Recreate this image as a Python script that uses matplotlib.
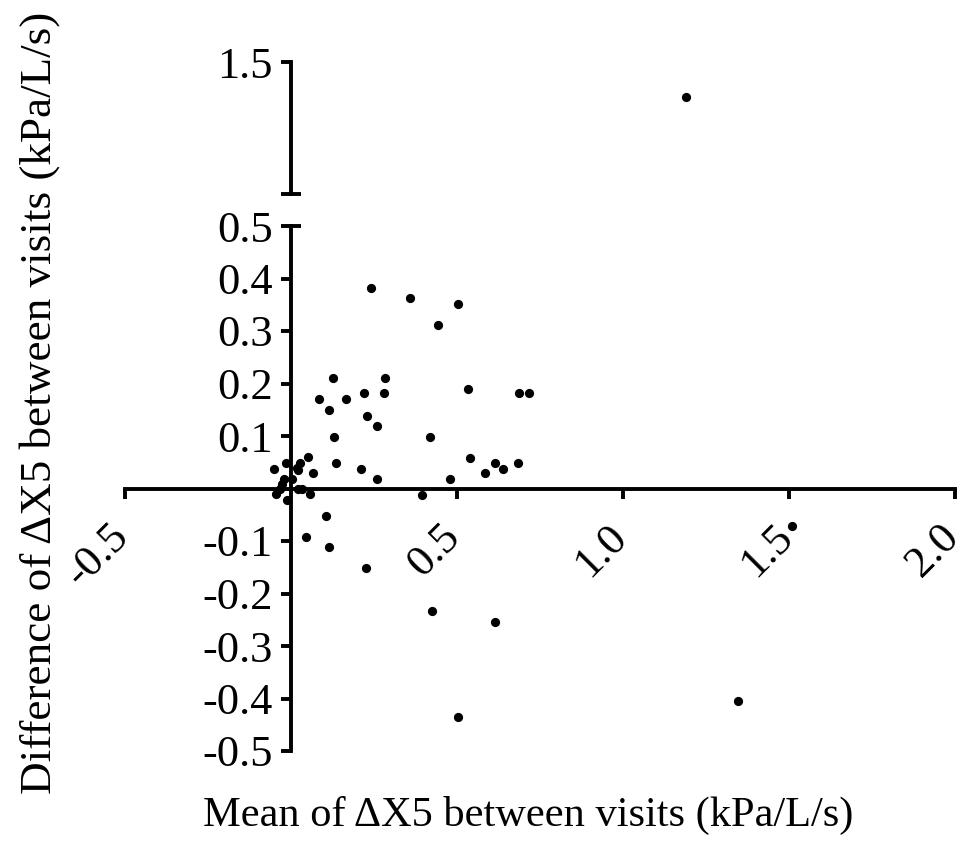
import matplotlib
matplotlib.use("Agg")
import matplotlib.pyplot as plt
import matplotlib.transforms as mtransforms
import numpy as np

plt.rcParams['font.family'] = ['Liberation Serif', 'DejaVu Serif']

# Bland-Altman style data
mean_x = [-0.050, -0.015, 0.027, 0.052, 0.018, 0.022, 0.065, -0.020, 0.002,
          -0.027, -0.033, -0.046, -0.013, 0.022, 0.033, 0.057,
          0.085, 0.126, 0.115, 0.130, 0.135, 0.165, 0.220, 0.240, 0.229,
          0.259, 0.211, 0.259, 0.280, 0.284, 0.358, 0.444, 0.504, 0.419,
          0.395, 0.479, 0.534, 0.538, 0.583, 0.613, 0.639, 0.683, 0.688,
          0.718,
          0.105, 0.045, 0.115, 0.226, 0.424, 0.613, 0.504, 1.510, 1.345,
          1.190]
diff_y = [0.038, 0.049, 0.049, 0.060, 0.040, 0.036, 0.029, 0.018, 0.019,
          0.009, 0.000, -0.011, -0.022, -0.001, -0.001, -0.011,
          0.170, 0.210, 0.150, 0.099, 0.049, 0.170, 0.181, 0.382, 0.139,
          0.120, 0.038, 0.019, 0.181, 0.210, 0.362, 0.311, 0.351, 0.099,
          -0.012, 0.019, 0.190, 0.059, 0.029, 0.049, 0.038, 0.049, 0.181,
          0.181,
          -0.052, -0.092, -0.112, -0.152, -0.234, -0.254, -0.435, -0.072, -0.404,
          1.433]

xticks = [-0.5, 0.5, 1.0, 1.5, 2.0]
xtick_labels = ['-0.5', '0.5', '1.0', '1.5', '2.0']
yticks_low = [-0.5, -0.4, -0.3, -0.2, -0.1, 0.1, 0.2, 0.3, 0.4, 0.5]
ytick_labels_low = ['-0.5', '-0.4', '-0.3', '-0.2', '-0.1', '0.1', '0.2', '0.3', '0.4', '0.5']
yticks_high = [1.5]
ytick_labels_high = ['1.5']

x = np.array(mean_x)
y = np.array(diff_y)

lw = 2.8
fs = 32

fig = plt.figure(figsize=(9.66, 8.48), dpi=100)
W, H = 966, 848
left, right = 125 / W, 955 / W
ax = fig.add_axes([left, (H - 751) / H, right - left, (751 - 226) / H])
ax_top = fig.add_axes([left, (H - 194) / H, right - left, (194 - 62) / H])

for a in (ax, ax_top):
    a.set_xlim(-0.5, 2.0)
    a.patch.set_visible(False)
    for s in ('top', 'right'):
        a.spines[s].set_visible(False)
    a.spines['left'].set_position(('data', 0))
    a.spines['left'].set_linewidth(lw)
    a.tick_params(axis='y', direction='out', length=7, width=lw, labelsize=fs, pad=6)

ax.set_ylim(-0.5, 0.5)
ax.spines['bottom'].set_position(('data', 0))
ax.spines['bottom'].set_linewidth(lw)
ax.set_xticks(xticks)
ax.set_xticklabels(xtick_labels, rotation=45, rotation_mode='anchor',
                   ha='right', va='center_baseline')
ax.tick_params(axis='x', direction='out', length=7, width=lw, labelsize=fs, pad=21)
# nudge rotated labels a little to the left
shift = mtransforms.ScaledTranslation(-6 / 100, 0, fig.dpi_scale_trans)
for lab in ax.get_xticklabels():
    lab.set_transform(lab.get_transform() + shift)
ax.set_yticks(yticks_low)
ax.set_yticklabels(ytick_labels_low)

ax_top.set_ylim(1.25, 1.5)
ax_top.spines['bottom'].set_visible(False)
ax_top.set_xticks([])
ax_top.set_yticks(yticks_high)
ax_top.set_yticklabels(ytick_labels_high)

# break caps
ax.plot([0, 0.03], [0.5, 0.5], color='black', lw=lw, clip_on=False, solid_capstyle='butt')
ax_top.plot([-0.03, 0.03], [1.25, 1.25], color='black', lw=lw, clip_on=False, solid_capstyle='butt')

low = y <= 0.5
ax.scatter(x[low], y[low], s=44, color='black', zorder=5, clip_on=False, linewidths=0)
ax_top.scatter(x[~low], y[~low], s=44, color='black', zorder=5, clip_on=False, linewidths=0)

fig.text(528 / W, 1 - 815 / H, 'Mean of \u0394X5 between visits (kPa/L/s)',
         ha='center', va='center', fontsize=30.5)
fig.text(40 / W, 1 - 403 / H, 'Difference of \u0394X5 between visits (kPa/L/s)',
         ha='center', va='center', rotation=90, fontsize=32.5)

fig.savefig('out.png', dpi=100)
